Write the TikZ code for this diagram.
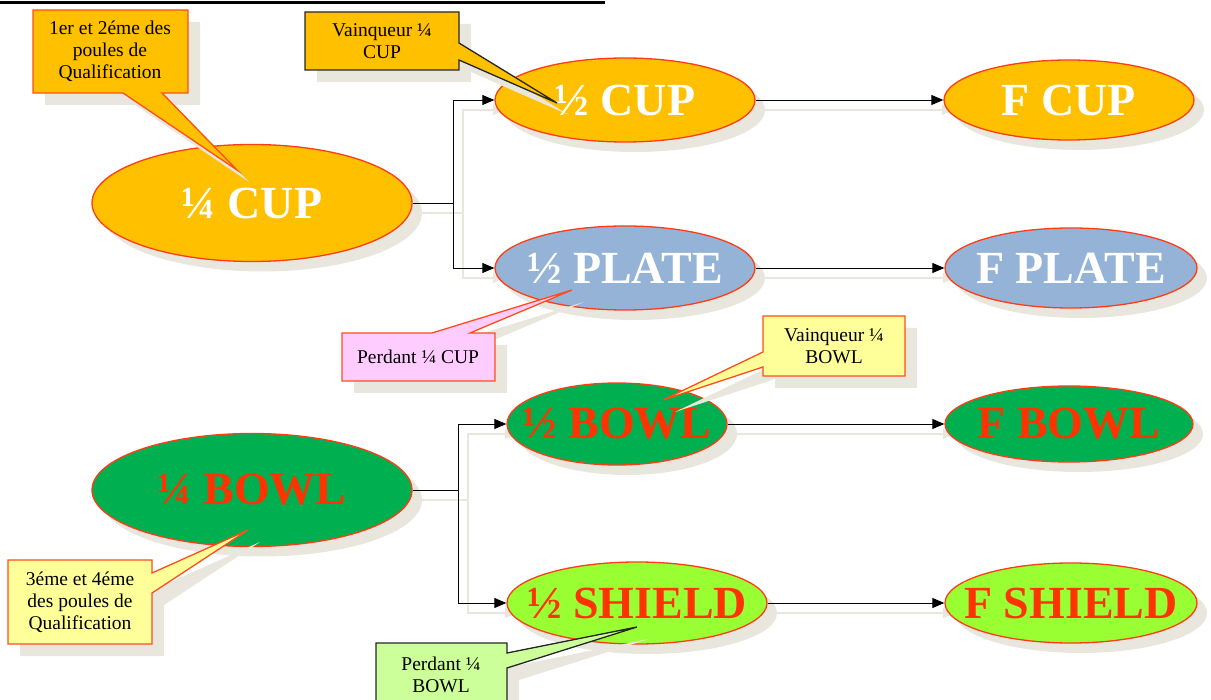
\documentclass[tikz,border=0pt]{standalone}
\usepackage{fontspec}
\setmainfont{Liberation Serif}
\usetikzlibrary{shapes.geometric,arrows.meta}
\definecolor{cupc}{HTML}{FFC000}
\definecolor{platec}{HTML}{95B3D7}
\definecolor{bowlc}{HTML}{00B050}
\definecolor{shieldc}{HTML}{99FF33}
\definecolor{eline}{HTML}{FF3C14}
\definecolor{redtxt}{HTML}{FF3300}
\definecolor{shad}{HTML}{E9E7DD}
\definecolor{yelc}{HTML}{FFFF99}
\definecolor{pinkc}{HTML}{FFCCFF}
\definecolor{lgrc}{HTML}{CCFF99}
\definecolor{cline}{HTML}{FF4D1A}
\tikzset{
 ell/.style={ellipse, draw=eline, line width=1.3pt, inner sep=0pt},
 esh/.style={ellipse, fill=shad, draw=none, inner sep=0pt},
 etxt/.style={font=\fontsize{46}{48}\selectfont\bfseries},
 conn/.style={draw=black, line width=0.9pt, -{Triangle[length=12pt,width=10pt]}},
 connsh/.style={draw=shad, line width=1.5pt, -{Triangle[length=12pt,width=10pt]}},
 callout/.style={line width=1.3pt, line join=miter},
 csh/.style={fill=shad, draw=none},
 ctxt/.style={font=\fontsize{19.5}{22}\selectfont, align=center, inner sep=0pt},
 cA/.style={insert path={(33,10) -- (188,10) -- (188,93) -- (162,93) -- (237,170) -- (123,93) -- (33,93) -- cycle}},
 cB/.style={insert path={(305,12) -- (459,12) -- (459,43) -- (557,103) -- (459,60) -- (459,70) -- (305,70) -- cycle}},
 cC/.style={insert path={(342,333) -- (432,333) -- (572,290) -- (470,333) -- (495,333) -- (495,381) -- (342,381) -- cycle}},
 cD/.style={insert path={(763,316) -- (905,316) -- (905,376) -- (763,376) -- (763,367) -- (663,400) -- (763,352) -- cycle}},
 cE/.style={insert path={(8,560) -- (152,560) -- (152,573) -- (248,530) -- (152,593) -- (152,644) -- (8,644) -- cycle}},
 cF/.style={insert path={(376,643) -- (507,643) -- (507,653) -- (637,627) -- (507,668) -- (507,712) -- (376,712) -- cycle}},
 sQC/.style={minimum width=320pt, minimum height=117pt},
 sHC/.style={minimum width=260pt, minimum height=84pt},
 sFC/.style={minimum width=250pt, minimum height=80pt},
 sHP/.style={minimum width=260pt, minimum height=84pt},
 sFP/.style={minimum width=252pt, minimum height=80pt},
 sQB/.style={minimum width=320pt, minimum height=113pt},
 sHB/.style={minimum width=220pt, minimum height=82pt},
 sFB/.style={minimum width=248pt, minimum height=76pt},
 sHS/.style={minimum width=260pt, minimum height=82pt},
 sFS/.style={minimum width=252pt, minimum height=80pt},
}
\begin{document}
\begin{tikzpicture}[x=1pt,y=-1pt]
\clip (0,0) rectangle (1211,700);
% ---- shadows of ellipses and connectors
\begin{scope}[shift={(10,10)}]
 \node[esh,sQC] (qcs) at (252,203) {};
 \node[esh,sHC] (hcs) at (625,100) {};
 \node[esh,sFC] (fcs) at (1069,100) {};
 \node[esh,sHP] (hps) at (625,268) {};
 \node[esh,sFP] (fps) at (1071,268) {};
 \node[esh,sQB] (qbs) at (252,490) {};
 \node[esh,sHB] (hbs) at (617,424) {};
 \node[esh,sFB] (fbs) at (1069,424) {};
 \node[esh,sHS] (hss) at (637,603) {};
 \node[esh,sFS] (fss) at (1071,603) {};
 \coordinate (jts) at (453,203);
 \coordinate (jbs) at (458,490);
 \draw[connsh] (qcs.east) -- (jts) |- (hcs.west);
 \draw[connsh] (jts) |- (hps.west);
 \draw[connsh] (qbs.east) -- (jbs) |- (hbs.west);
 \draw[connsh] (jbs) |- (hss.west);
 \draw[connsh] (hcs.east) -- (fcs.west);
 \draw[connsh] (hps.east) -- (fps.west);
 \draw[connsh] (hbs.east) -- (fbs.west);
 \draw[connsh] (hss.east) -- (fss.west);
\end{scope}
% ---- ellipses
\node[ell,sQC,fill=cupc,label={[etxt,text=white]center:¼ CUP}] (qc) at (252,203) {};
\node[ell,sHC,fill=cupc,label={[etxt,text=white]center:½ CUP}] (hc) at (625,100) {};
\node[ell,sFC,fill=cupc,label={[etxt,text=white]center:F CUP}] (fc) at (1069,100) {};
\node[ell,sHP,fill=platec,label={[etxt,text=white]center:½ PLATE}] (hp) at (625,268) {};
\node[ell,sFP,fill=platec,label={[etxt,text=white]center:F PLATE}] (fp) at (1071,268) {};
\node[ell,sQB,fill=bowlc,label={[etxt,text=redtxt]center:¼ BOWL}] (qb) at (252,490) {};
\node[ell,sHB,fill=bowlc,label={[etxt,text=redtxt]center:½ BOWL}] (hb) at (617,424) {};
\node[ell,sFB,fill=bowlc,label={[etxt,text=redtxt]center:F BOWL}] (fb) at (1069,424) {};
\node[ell,sHS,fill=shieldc,label={[etxt,text=redtxt]center:½ SHIELD}] (hs) at (637,603) {};
\node[ell,sFS,fill=shieldc,label={[etxt,text=redtxt]center:F SHIELD}] (fs) at (1071,603) {};
% ---- connectors
\coordinate (jt) at (453,203);
\coordinate (jb) at (458,490);
\draw[conn] (qc.east) -- (jt) |- (hc.west);
\draw[conn] (jt) |- (hp.west);
\draw[conn] (qb.east) -- (jb) |- (hb.west);
\draw[conn] (jb) |- (hs.west);
\draw[conn] (hc.east) -- (fc.west);
\draw[conn] (hp.east) -- (fp.west);
\draw[conn] (hb.east) -- (fb.west);
\draw[conn] (hs.east) -- (fs.west);
% ---- callout shadows
\fill[csh,shift={(12,12)},cA];
\fill[csh,shift={(12,12)},cB];
\fill[csh,shift={(12,12)},cC];
\fill[csh,shift={(12,12)},cD];
\fill[csh,shift={(12,12)},cE];
\fill[csh,shift={(12,12)},cF];
% ---- callouts
\filldraw[callout,fill=cupc,draw=cline,cA];
\node[ctxt] (tA) at (110,51) {1er et 2éme des\\poules de\\Qualification};
\filldraw[callout,fill=cupc,draw=black!85,cB];
\node[ctxt] (tB) at (382,41) {Vainqueur ¼\\CUP};
\filldraw[callout,fill=pinkc,draw=cline,cC];
\node[ctxt] (tC) at (418,357) {Perdant ¼ CUP};
\filldraw[callout,fill=yelc,draw=cline,cD];
\node[ctxt] (tD) at (834,346) {Vainqueur ¼\\BOWL};
\filldraw[callout,fill=yelc,draw=cline,cE];
\node[ctxt] (tE) at (80,602) {3éme et 4éme\\des poules de\\Qualification};
\filldraw[callout,fill=lgrc,draw=black!85,cF];
\node[ctxt] (tF) at (441,675) {Perdant ¼\\BOWL};
% ---- heading underline
\draw[line width=3pt] (0,3) -- (605,3);
\end{tikzpicture}
\end{document}
